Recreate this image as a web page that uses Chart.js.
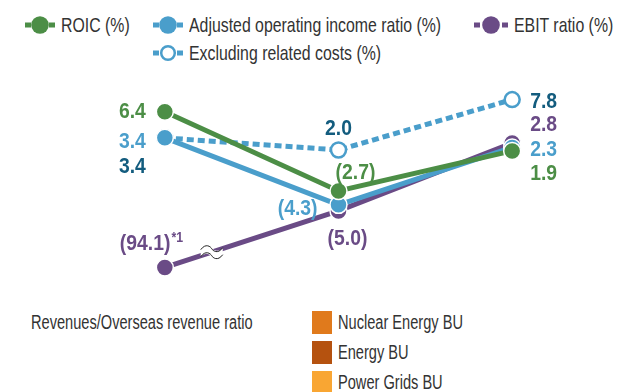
<!DOCTYPE html>
<html>
<head>
<meta charset="utf-8">
<script src="https://cdn.jsdelivr.net/npm/chart.js@4.4.1/dist/chart.umd.min.js"></script>
<style>
  html, body { margin: 0; padding: 0; background: #fff; }
  body { width: 619px; height: 392px; position: relative; overflow: hidden;
         font-family: "Liberation Sans", Arial, sans-serif; color: #333; }
  #wrap { position: absolute; left: 0; top: 70px; width: 619px; height: 230px; }
  .lg { position: absolute; display: flex; align-items: center; font-size: 21px; height: 20px; white-space: nowrap; }
  .lg svg { margin-right: 6px; flex: none; }
  .bu { position: absolute; display: flex; align-items: center; font-size: 20px; color: #333; white-space: nowrap; }
  .bu i { display: inline-block; width: 20px; height: 23px; margin-right: 6px; flex: none; }
  /* narrow the text the way a condensed face would */
  .n { display: inline-block; transform: scaleX(0.755); transform-origin: 0 50%; }
  .bu .n { transform: scaleX(0.73); }
</style>
</head>
<body>
<div id="legend"></div>
<div id="wrap"><canvas id="chart"></canvas></div>
<div class="bu" style="left:31px; top:311px; height:23px;"><span class="n">Revenues/Overseas revenue ratio</span></div>
<div id="buLegend"></div>
<script>
// fiscal years (not labelled on the chart)
const periods = ['FY1', 'FY2', 'FY3'];
const roic = [6.4, -2.7, 1.9];
const adjustedRatio = [3.4, -4.3, 2.3];
const excludingCosts = [3.4, 2.0, 7.8];
const ebitRatio = [-94.1, -5.0, 2.8];
const ebitNote = '*1';

const buNames = ['Nuclear Energy BU', 'Energy BU', 'Power Grids BU'];
const buColors = ['#E07A1C', '#B5520F', '#F9A633'];

const GREEN = '#4C8E46', BLUE = '#4A9ECB', NAVY = '#135C7E', PURPLE = '#6A4B86';

// values below BREAK_AT are squeezed so the -94.1 point fits under the broken axis
const BREAK_AT = -6, SQUASH = 0.0624;
function squash(v) { return v < BREAK_AT ? BREAK_AT - (BREAK_AT - v) * SQUASH : v; }

class BrokenScale extends Chart.LinearScale {
  getPixelForValue(value) {
    return super.getPixelForValue(value == null ? value : squash(value));
  }
}
BrokenScale.id = 'broken';
BrokenScale.defaults = Chart.LinearScale.defaults;
Chart.register(BrokenScale);

function fmt(v) { return v < 0 ? '(' + Math.abs(v).toFixed(1) + ')' : v.toFixed(1); }

const LABEL_SX = 0.88;
// draws horizontally squeezed text, returns its right edge
function narrowText(ctx, txt, x, y, align, sx) {
  const w = ctx.measureText(txt).width * sx;
  const left = align === 'right' ? x - w : align === 'center' ? x - w / 2 : x;
  ctx.save();
  ctx.translate(left, y);
  ctx.scale(sx, 1);
  ctx.textAlign = 'left';
  ctx.fillText(txt, 0, 0);
  ctx.restore();
  return left + w;
}

// label placement per dataset / point: dx, dy, align
const labelPos = [
  [[-19, 0, 'right'], [17, -18, 'center'], [18, 23, 'left']],
  [[-19, 4, 'right'], [-21, 4, 'right'], [18, 3, 'left']],
  [[-19, 29, 'right'], [0, -21, 'center'], [18, 2, 'left']],
  [[-45, -24, 'left'], [9, 28, 'center'], [18, -18, 'left']]
];
const labelColor = [GREEN, BLUE, NAVY, PURPLE];

const valueLabels = {
  id: 'valueLabels',
  afterDatasetsDraw(chart) {
    const ctx = chart.ctx;
    ctx.save();
    ctx.textBaseline = 'middle';
    chart.data.datasets.forEach((ds, di) => {
      const meta = chart.getDatasetMeta(di);
      meta.data.forEach((pt, i) => {
        const [dx, dy, align] = labelPos[di][i];
        ctx.font = 'bold 22px "Liberation Sans", Arial, sans-serif';
        ctx.fillStyle = labelColor[di];
        const end = narrowText(ctx, fmt(ds.data[i]), pt.x + dx, pt.y + dy, align, LABEL_SX);
        if (di === 3 && i === 0) {
          ctx.font = 'bold 14px "Liberation Sans", Arial, sans-serif';
          narrowText(ctx, ebitNote, end + 1, pt.y + dy - 5, 'left', LABEL_SX);
        }
      });
    });
    ctx.restore();
  }
};

// wavy "≈" mark where the EBIT line crosses the axis break
const breakMark = {
  id: 'breakMark',
  afterDatasetsDraw(chart) {
    const pts = chart.getDatasetMeta(3).data;
    const a = pts[0], b = pts[1];
    const t = 0.27;
    const cx = a.x + (b.x - a.x) * t, cy = a.y + (b.y - a.y) * t;
    const ctx = chart.ctx;
    ctx.save();
    ctx.translate(cx, cy);
    ctx.fillStyle = '#fff';
    ctx.beginPath();
    ctx.moveTo(-11, -4); ctx.quadraticCurveTo(-5, -9, 0, -4); ctx.quadraticCurveTo(5, 1, 11, -4);
    ctx.lineTo(11, 4); ctx.quadraticCurveTo(5, 9, 0, 4); ctx.quadraticCurveTo(-5, -1, -11, 4);
    ctx.closePath();
    ctx.fill();
    ctx.strokeStyle = '#222';
    ctx.lineWidth = 1;
    [-3.5, 3.5].forEach(o => {
      ctx.beginPath();
      ctx.moveTo(-11, o + 1);
      ctx.bezierCurveTo(-6, o - 6, -1, o - 2, 0, o);
      ctx.bezierCurveTo(1, o + 2, 6, o + 6, 11, o - 1);
      ctx.stroke();
    });
    ctx.restore();
  }
};

function solid(label, data, color) {
  return {
    label, data,
    borderColor: color, backgroundColor: color,
    borderWidth: 5, tension: 0,
    pointRadius: 8.5, pointHoverRadius: 8.5,
    pointBackgroundColor: color, pointBorderColor: '#fff', pointBorderWidth: 1.5
  };
}

new Chart(document.getElementById('chart'), {
  type: 'line',
  data: {
    labels: periods,
    datasets: [
      solid('ROIC (%)', roic, GREEN),
      solid('Adjusted operating income ratio (%)', adjustedRatio, BLUE),
      {
        label: 'Excluding related costs (%)', data: excludingCosts,
        borderColor: BLUE, borderWidth: 5, borderDash: [7, 4], tension: 0,
        pointRadius: 7.5, pointHoverRadius: 7.5,
        pointBackgroundColor: '#fff', pointBorderColor: BLUE, pointBorderWidth: 2.5
      },
      solid('EBIT ratio (%)', ebitRatio, PURPLE)
    ]
  },
  options: {
    responsive: true, maintainAspectRatio: false, animation: false,
    layout: { padding: { left: 78, right: 20, top: 10, bottom: 20 } },
    plugins: { legend: { display: false }, tooltip: { enabled: false } },
    scales: {
      x: { display: false, offset: true },
      y: { type: 'broken', display: false, min: -12.94, max: 10.05 }
    },
    clip: false
  },
  plugins: [breakMark, valueLabels]
});

// legend rows with line-dot-line markers
function marker(color, hollow, w) {
  const c = w / 2;
  const dot = hollow
    ? `<circle cx="${c}" cy="9" r="6.8" fill="#fff" stroke="${color}" stroke-width="2.5"/>`
    : `<circle cx="${c}" cy="9" r="8.8" fill="${color}"/>`;
  return `<svg width="${w}" height="18"><line x1="0" y1="9" x2="${w}" y2="9" stroke="${color}" stroke-width="5" stroke-dasharray="6 ${w - 12} 6"/>${dot}</svg>`;
}
const legendItems = [
  ['ROIC (%)', GREEN, false, 25, 15, 30],
  ['Adjusted operating income ratio (%)', BLUE, false, 153, 15, 30],
  ['EBIT ratio (%)', PURPLE, false, 474, 15, 34],
  ['Excluding related costs (%)', BLUE, true, 153, 43, 30]
];
document.getElementById('legend').innerHTML = legendItems.map(([t, c, h, x, y, w]) =>
  `<div class="lg" style="left:${x}px; top:${y}px;">${marker(c, h, w)}<span class="n">${t}</span></div>`).join('');

document.getElementById('buLegend').innerHTML = buNames.map((n, i) =>
  `<div class="bu" style="left:312px; top:${311 + i * 30}px;"><i style="background:${buColors[i]}"></i><span class="n">${n}</span></div>`).join('');
</script>
</body>
</html>
